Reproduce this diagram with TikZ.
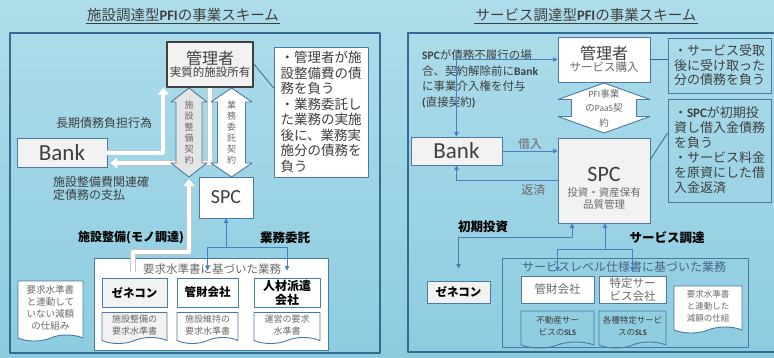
\documentclass[tikz,border=0pt]{standalone}
\usepackage{fontspec}
\setmainfont{Noto Sans CJK JP}
\newfontfamily\latin{Carlito}
\usetikzlibrary{arrows.meta, positioning, calc, shapes.symbols}

\definecolor{bgtop}{HTML}{AEDDEB}
\definecolor{bgbot}{HTML}{8CCCDF}
\definecolor{panelline}{HTML}{356A93}
\definecolor{boxline}{HTML}{4A79A5}
\definecolor{arrblue}{HTML}{4A7EC0}
\definecolor{txt}{HTML}{3F3F3F}
\definecolor{txtg}{HTML}{6A6A6A}
\definecolor{lightfill}{HTML}{F2F2F2}
\definecolor{arrgray}{HTML}{E4E4E4}
\definecolor{slsblue}{HTML}{46678A}

% vertical block arrow: cx, top, bottom, shaft half width, head half width, head length
\newcommand{\vblock}[7][]{%
  \draw[#1] (#2,#3) -- (#2+#6,#3+#7) -- (#2+#5,#3+#7) -- (#2+#5,#4-#7)
    -- (#2+#6,#4-#7) -- (#2,#4) -- (#2-#6,#4-#7) -- (#2-#5,#4-#7)
    -- (#2-#5,#3+#7) -- (#2-#6,#3+#7) -- cycle;}

\begin{document}
\begin{tikzpicture}[x=1pt, y=-1pt, line join=round,
    panel/.style={draw=panelline, line width=1.1pt},
    box/.style={draw=boxline, line width=0.9pt, inner sep=0pt, align=center, text=txt},
    comp/.style={box, minimum height=29pt, text=black, font=\fontsize{11.5}{13.5}\selectfont\bfseries},
    note/.style={box, align=left, font=\fontsize{13.5}{15.5}\selectfont},
    docbox/.style={box, shape=tape, tape bend top=none, tape bend bottom=in and out, tape bend height=6pt, text=txtg, font=\fontsize{9}{11.5}\selectfont},
    lbl/.style={inner sep=1pt, text=txt, font=\fontsize{12}{13}\selectfont},
    bold/.style={inner sep=1pt, text=black, font=\fontsize{12.5}{14}\selectfont\bfseries},
    ttl/.style={inner sep=1pt, text=txt, font=\fontsize{14.5}{16}\selectfont},
    vtext/.style={inner sep=0pt, align=center, text=txtg, font=\fontsize{9}{11}\selectfont},
    callout/.style={draw=panelline, line width=0.8pt},
    barrow/.style={draw=arrblue, line width=0.8pt, -{Triangle[length=4.5pt, width=4.5pt]}},
    warrow/.style={draw=white, line width=4pt, -{Triangle[length=7pt, width=11pt]}, preaction={draw=gray!45, line width=5.5pt}},
    blk/.style={draw=boxline, line width=0.9pt}
]
    % Define the background
    \clip (0,0) rectangle (774,357);
    \shade[top color=bgtop, bottom color=bgbot] (0,0) rectangle (774,357);
    \draw[panel] (10,33) rectangle (380,353);
    \draw[panel] (408,33) rectangle (780,352);

    % Define the titles
    \node[ttl] (titleL) at (183,15) {施設調達型{\latin\bfseries PFI}の事業スキーム};
    \node[ttl] (titleR) at (586,15) {サービス調達型{\latin\bfseries PFI}の事業スキーム};
    \draw[txt, line width=0.7pt] (titleL.south west) -- (titleL.south east);
    \draw[txt, line width=0.7pt] (titleR.south west) -- (titleR.south east);

    % Define the nodes (left)
    \node[box, draw=txt, line width=1.2pt, fill=lightfill, minimum width=86pt, minimum height=45pt] (kanriL) at (210,64.5)
        {{\fontsize{16}{18}\selectfont 管理者}\\{\fontsize{11.5}{13}\selectfont 実質的施設所有}};
    \node[note, fill=white, minimum width=94pt, minimum height=130pt] (noteL) at (321,112)
        {・管理者が施\\設整備費の債\\務を負う\\・業務委託し\\た業務の実施\\後に、業務実\\施分の債務を\\負う};
    \node[box, fill=lightfill, minimum width=90pt, minimum height=29pt, font=\fontsize{23}{24}\latin] (bankL) at (62,152.5) {Bank};
    \node[box, fill=white, minimum width=54pt, minimum height=41pt, font=\fontsize{20}{22}\latin] (spcL) at (226,197.5) {SPC};
    \node[lbl] (debtL) at (104,123) {長期債務負担行為};
    \node[lbl, align=left, anchor=west] (payL) at (52,188) {施設整備費関連確\\定債務の支払};
    \node[bold, font=\fontsize{12}{14}\selectfont\bfseries] (monoL) at (131,238) {施設整備(モノ調達)};
    \node[bold] (itakuL) at (285,238) {業務委託};

    \node[box, fill=white, minimum width=234pt, minimum height=92pt] (bigL) at (211,304) {};
    \node[lbl, text=txtg, font=\fontsize{11.5}{13}\selectfont] (bigLtitle) at (212,269) {要求水準書に基づいた業務};
    \node[comp, fill=lightfill, minimum width=65pt] (genL) at (134.5,292.5) {ゼネコン};
    \node[comp, fill=white, minimum width=61pt] (kanzaiL) at (207.5,292.5) {管財会社};
    \node[comp, fill=white, minimum width=66pt, font=\fontsize{12}{14}\selectfont\bfseries] (jinzaiL) at (287,292.5) {人材派遣\\会社};
    \node[docbox, fill=lightfill, minimum width=65pt, minimum height=31pt] (genDocL) at (134.5,325) {施設整備の\\要求水準書};
    \node[docbox, fill=white, minimum width=61pt, minimum height=31pt] (kanzaiDocL) at (207.5,325) {施設維持の\\要求水準書};
    \node[docbox, fill=white, minimum width=66pt, minimum height=31pt] (jinzaiDocL) at (287,325) {運営の要求\\水準書};
    \node[docbox, fill=white, minimum width=65pt, minimum height=60pt, font=\fontsize{9.5}{12}\selectfont] (gensaiL) at (50.5,308)
        {要求水準書\\と連動して\\いない減額\\の仕組み};

    % Define the connections (left)
    \draw[callout] (253,63) -- (noteL.west |- 0,88);
    \draw[warrow] (bankL.east) -| ($(kanriL.south west)+(-3,0)$);
    \draw[warrow] (kanriL.south) |- ($(bankL.east)+(3,10.5)$);
    \vblock[blk, fill=arrgray]{189}{88}{177}{13}{18}{14}
    \vblock[blk, fill=white]{231.5}{88}{177}{14}{20.5}{14}
    \node[vtext] (keiyakuA) at (189,132.5) {施\\設\\整\\備\\契\\約};
    \node[vtext] (keiyakuB) at (231.5,132.5) {業\\務\\委\\託\\契\\約};
    \coordinate (monoS) at (133,272);
    \draw[warrow] (monoS) -- ++(0,-20) -| (189,179);
    \coordinate (brL) at (226,247);
    \draw[barrow] (brL) -- (spcL.south);
    \draw[barrow] (brL) -| ([yshift=7pt]kanzaiL.north);
    \draw[barrow] (brL) -| ([yshift=7pt]jinzaiL.north);

    % Define the nodes (right)
    \node[box, fill=white, minimum width=92pt, minimum height=45pt] (kanriR) at (604,59.5)
        {{\fontsize{16}{18}\selectfont 管理者}\\{\color{txtg}\fontsize{11.5}{13}\selectfont サービス購入}};
    \node[note, minimum width=103pt, minimum height=55pt, font=\fontsize{13}{14.5}\selectfont] (noteR1) at (719.5,65.5)
        {・サービス受取\\後に受け取った\\分の債務を負う};
    \node[note, minimum width=103pt, minimum height=103pt, font=\fontsize{13}{15}\selectfont] (noteR2) at (719.5,150.5)
        {・{\latin\bfseries SPC}が初期投\\資し借入金債務\\を負う\\・サービス料金\\を原資にした借\\入金返済};
    \node[box, fill=lightfill, minimum width=91pt, minimum height=28pt, font=\fontsize{23}{24}\latin] (bankR) at (456.5,151) {Bank};
    \node[box, fill=lightfill, minimum width=92pt, minimum height=85pt] (spcR) at (604,180.5) {};
    \node[inner sep=0pt, align=center, text=txt] (spcRtext) at (604,188)
        {{\fontsize{22}{24}\latin SPC}\\[3pt]{\color{txtg}\fontsize{10.5}{11.5}\selectfont 投資・資産保有}\\{\color{txtg}\fontsize{10.5}{11.5}\selectfont 品質管理}};
    \node[lbl, align=left, anchor=west, font=\fontsize{11.5}{15.5}\selectfont] (directR) at (421,79)
        {{\latin\bfseries SPC}が債務不履行の場\\合、契約解除前に{\latin\bfseries Bank}\\に事業介入権を付与\\{\latin\bfseries(}直接契約{\latin\bfseries)}};
    \node[bold] (invR) at (483,227) {初期投資};
    \node[bold] (svcR) at (667,238) {サービス調達};

    \node[box, minimum width=246pt, minimum height=89pt] (bigR) at (625,302.5) {};
    \node[lbl, text=slsblue, font=\fontsize{12}{13}\selectfont] (bigRtitle) at (624,267) {サービスレベル仕様書に基づいた業務};
    \node[comp, fill=lightfill, minimum width=63pt, minimum height=22pt] (genR) at (458.5,292) {ゼネコン};
    \node[comp, fill=white, minimum width=73pt, minimum height=27pt, text=txtg, font=\fontsize{11.5}{13}\selectfont] (kanzaiR) at (557.5,289.5) {管財会社};
    \node[comp, fill=white, minimum width=67pt, minimum height=27pt, text=txtg, font=\fontsize{11.5}{13}\selectfont] (tokuteiR) at (632.5,289.5) {特定サー\\ビス会社};
    \node[docbox, minimum width=73pt, minimum height=37pt, text=txt, font=\fontsize{8.5}{12}\selectfont] (fudosanR) at (557.5,326.5)
        {不動産サー\\ビスの{\latin\bfseries SLS}};
    \node[docbox, minimum width=67pt, minimum height=37pt, text=txt, font=\fontsize{8.5}{12}\selectfont] (kakushuR) at (632.5,326.5)
        {各種特定サービ\\スの{\latin\bfseries SLS}};
    \node[docbox, fill=white, minimum width=68pt, minimum height=47pt, font=\fontsize{8.5}{12}\selectfont] (gensaiR) at (708,306.5)
        {要求水準書\\と連動した\\減額の仕組};

    % Define the connections (right)
    \draw[callout] (kanriR.east) -- (kanriR.east -| noteR1.west);
    \draw[callout] (650,160) -- (noteR2.west |- 0,133);
    \vblock[blk, fill=white]{604}{83}{133}{32.5}{46}{16.5}
    \node[vtext, font=\fontsize{9.5}{14.5}\selectfont] (paasR) at (604,108) {{\latin PFI}事業\\の{\latin PaaS}契\\約};
    \draw[barrow] (bankR.east) -- node[lbl, above, text=txtg] (kariR) {借入} (spcR.west |- bankR.east);
    \draw[barrow] (spcR.west) -| node[lbl, below=3pt, pos=0.12, text=txtg] (hensaiR) {返済} (bankR.south);
    \draw[barrow, {Triangle[length=4.5pt, width=4.5pt]}-{Triangle[length=4.5pt, width=4.5pt]}] (bankR.north) |- (kanriR.west);
    \coordinate (invC) at (572,237);
    \draw[barrow, {Triangle[length=4.5pt, width=4.5pt]}-{Triangle[length=4.5pt, width=4.5pt]}] ([yshift=12pt]genR.north) |- (invC) -- (invC |- spcR.south);
    \coordinate (svcC) at (605,249);
    \draw[barrow] (svcC) -- (svcC |- spcR.south);
    \draw[barrow] (svcC) -| ([yshift=4pt]kanzaiR.north);
    \draw[barrow] (svcC) -| ([yshift=4pt]tokuteiR.north);
\end{tikzpicture}
\end{document}
